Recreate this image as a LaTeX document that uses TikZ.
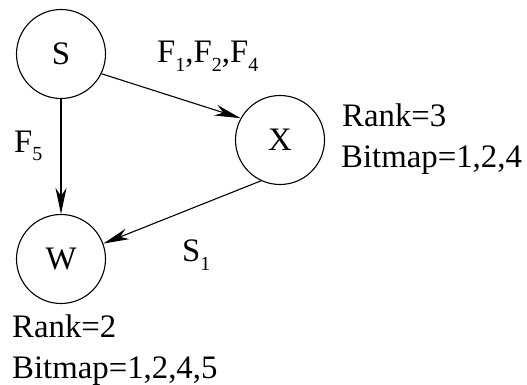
\documentclass[tikz,border=0pt]{standalone}
\usepackage{fontspec}
\setmainfont{Liberation Serif}
\usetikzlibrary{arrows.meta}
\newcommand\lowsub[1]{\raisebox{-9pt}{\fontsize{20}{20}\selectfont #1}}
\begin{document}
\begin{tikzpicture}[x=1pt,y=-1pt,
  every node/.style={font=\fontsize{32.8}{36}\selectfont},
  vertex/.style={draw,circle,line width=1.1pt,minimum size=89pt,inner sep=0pt},
  lbl/.style={anchor=base west,inner sep=0pt},
  edge/.style={line width=1.1pt,-{Stealth[length=26pt,width=11pt,inset=8pt]}}]
\useasboundingbox (0,0) rectangle (527,385);
\node[vertex] (S) at (61,54) {S};
\node[vertex] (X) at (280,140) {X};
\node[vertex] (W) at (61,259) {W};
\draw[edge] (S.-26) -- (X.151);
\draw[edge] (S.-90) -- (W.90);
\draw[edge] (X.-115) -- (W.20);
\node[lbl] (l1) at (157,63) {F\lowsub{1},F\lowsub{2},F\lowsub{4}};
\node[lbl] (l2) at (14,152) {F\lowsub{5}};
\node[lbl] (l3) at (182,261) {S\lowsub{1}};
\node[lbl] (r3) at (342,127) {Rank=3};
\node[lbl] (b3) at (341,167) {Bitmap=1,2,4};
\node[lbl] (r2) at (12,337) {Rank=2};
\node[lbl] (b2) at (12,378) {Bitmap=1,2,4,5};
\end{tikzpicture}
\end{document}
